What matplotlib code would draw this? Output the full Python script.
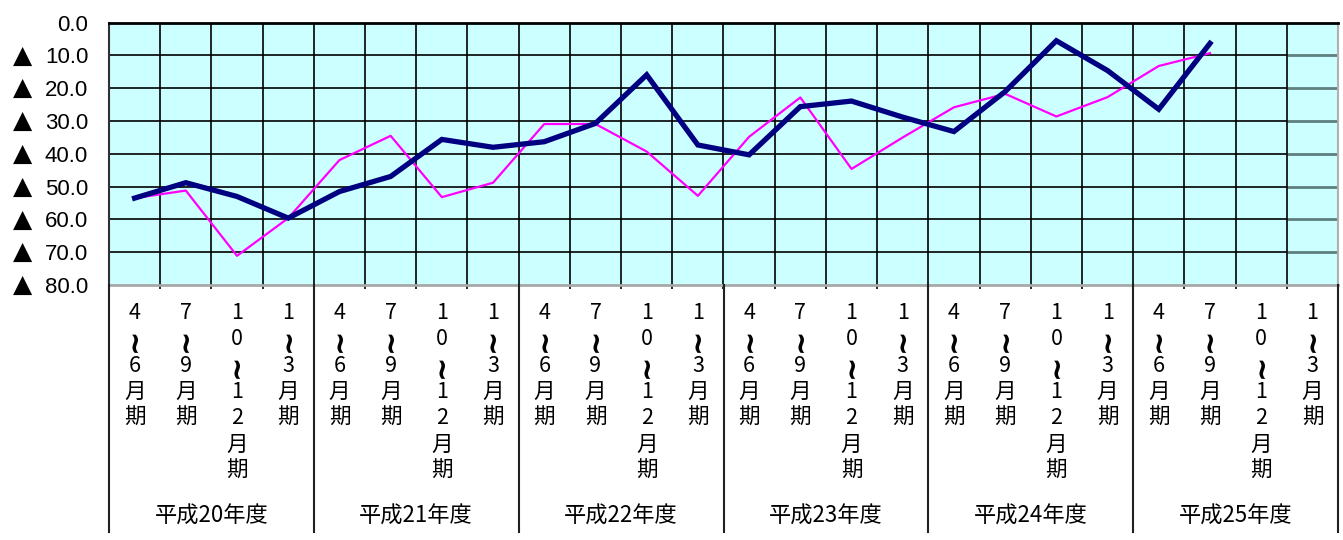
import numpy as np
import matplotlib
matplotlib.use("Agg")
import matplotlib.pyplot as plt
import matplotlib.transforms as mtransforms
from matplotlib.lines import Line2D

# ---- data ----
years = ["平成20年度", "平成21年度", "平成22年度", "平成23年度", "平成24年度", "平成25年度"]
quarters = [["4", "~", "6", "月", "期"],
            ["7", "~", "9", "月", "期"],
            ["1", "0", "~", "1", "2", "月", "期"],
            ["1", "~", "3", "月", "期"]]
navy_vals = [-53.5, -48.8, -53.0, -59.6, -51.5, -46.9, -35.6, -38.0,
             -36.3, -30.7, -15.9, -37.3, -40.3, -25.6, -23.9, -28.8,
             -33.2, -21.0, -5.5, -14.6, -26.4, -6.3, np.nan, np.nan]
magenta_vals = [-53.5, -51.2, -71.1, -59.6, -41.9, -34.5, -53.2, -48.8,
                -30.9, -30.9, -39.3, -52.8, -34.8, -22.8, -44.6, -35.0,
                -25.8, -21.7, -28.6, -22.7, -13.2, -9.3, np.nan, np.nan]
yticks = [0, -10, -20, -30, -40, -50, -60, -70, -80]
ytick_labels = ["%.1f" % abs(v) for v in yticks]

W, H = 1343, 540
fig = plt.figure(figsize=(W / 100, H / 100), dpi=100)
left, right, top, bottom = 109, 1338, 22.7, 285
ax = fig.add_axes([left / W, 1 - bottom / H, (right - left) / W, (bottom - top) / H])

n = len(navy_vals)
x = np.arange(n) + 0.5
ax.set_xlim(0, n)
ax.set_ylim(-80, 0)
ax.set_facecolor("#CCFFFF")

# grid
for yv in yticks[1:-1]:
    ax.hlines(yv, 0, n - 1, color="black", lw=1.2, zorder=1)
    ax.hlines(yv, n - 1, n, color="#5f7f7f", lw=2.0, zorder=1)
for xv in range(1, n):
    ax.vlines(xv, -80, 0, color="black", lw=1.2, zorder=1)

ax.plot(x, magenta_vals, color="#FF00FF", lw=1.6, zorder=3)
ax.plot(x, navy_vals, color="#000080", lw=3.8, zorder=4, solid_joinstyle="miter")

# spines
ax.spines["top"].set_color("black"); ax.spines["top"].set_linewidth(2)
ax.spines["left"].set_color("#303030"); ax.spines["left"].set_linewidth(1.5)
ax.spines["right"].set_color("#b0b0b0"); ax.spines["right"].set_linewidth(1.5)
ax.spines["bottom"].set_color("#a8a8a8"); ax.spines["bottom"].set_linewidth(2)

ax.set_yticks(yticks)
ax.set_yticklabels(ytick_labels, family=["Liberation Sans", "DejaVu Sans"], fontsize=16)
ax.tick_params(axis="y", length=0, pad=15)
ax.set_xticks(range(0, n + 1))
ax.set_xticklabels([])
ax.tick_params(axis="x", length=3, width=1.2, color="black")

# triangle markers for negative values (x in figure coords, y in data)
tri_tr = mtransforms.blended_transform_factory(fig.transFigure, ax.transData)
for yv in yticks[1:]:
    ax.text(22.5 / W, yv, "▲", transform=tri_tr, ha="center", va="center",
            fontsize=18, family=["DejaVu Sans"], clip_on=False)

def fy(py):
    return 1 - py / H

def fx(px):
    return px / W

cw = (right - left) / n
for i in range(n):
    chars = quarters[i % 4]
    cx = left + (i + 0.5) * cw
    for j, ch in enumerate(chars):
        py = 313 + j * 26.3
        if ch == "~":
            fig.text(fx(cx), fy(py), ch, rotation=90, ha="center", va="center",
                     fontsize=21, fontweight="bold", family=["DejaVu Sans"])
        else:
            fig.text(fx(cx), fy(py), ch, ha="center", va="center",
                     fontsize=15.5, family=["Noto Sans CJK JP", "DejaVu Sans"])

for k, yl in enumerate(years):
    cx = left + (4 * k + 2) * cw
    fig.text(fx(cx), fy(516), yl, ha="center", va="center", fontsize=16,
             family=["Noto Sans CJK JP", "DejaVu Sans"])

for k in range(len(years) + 1):
    px = left + 4 * k * cw
    fig.add_artist(Line2D([fx(px), fx(px)], [fy(bottom), fy(532)],
                          color="#202020", lw=1.5))

fig.savefig("out.png", dpi=100)
